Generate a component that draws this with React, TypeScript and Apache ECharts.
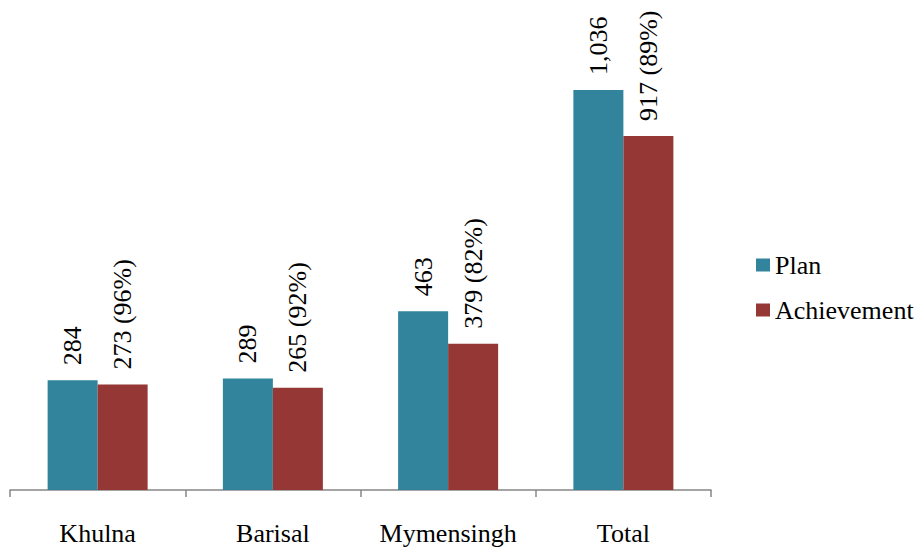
import React, { useEffect, useRef } from "react";
import * as echarts from "echarts";

const categories = ["Khulna", "Barisal", "Mymensingh", "Total"];
const planValues = [284, 289, 463, 1036];
const achievementValues = [273, 265, 379, 917];
const achievementPct = [96, 92, 82, 89];

const FONT = "Times New Roman";

export default function App() {
  const ref = useRef<HTMLDivElement>(null);

  useEffect(() => {
    if (!ref.current) return;
    const chart = echarts.init(ref.current, undefined, { renderer: "svg" });
    chart.setOption({
      animation: false,
      backgroundColor: "#fff",
      textStyle: { fontFamily: FONT },
      grid: { left: 10, right: 205, top: 26.68, bottom: 58 },
      legend: {
        orient: "vertical",
        left: 751,
        top: 247,
        itemWidth: 14,
        itemHeight: 13,
        itemGap: 19,
        icon: "rect",
        textStyle: { fontFamily: FONT, fontSize: 26, color: "#000" },
        data: ["Plan", "Achievement"],
      },
      xAxis: {
        type: "category",
        data: categories,
        axisLine: { lineStyle: { color: "#868686", width: 1.5 } },
        axisTick: { show: true, length: 7, lineStyle: { color: "#868686", width: 1.5 } },
        axisLabel: { interval: 0, color: "#000", fontFamily: FONT, fontSize: 26, margin: 30 },
      },
      yAxis: {
        type: "value",
        min: 0,
        max: 1200,
        show: false,
        splitLine: { show: false },
      },
      series: [
        {
          name: "Plan",
          type: "bar",
          data: planValues,
          barWidth: 50,
          barGap: "0%",
          itemStyle: { color: "#31849B" },
          label: {
            show: true,
            position: "top",
            rotate: 90,
            align: "left",
            verticalAlign: "middle",
            distance: 15,
            color: "#000",
            fontFamily: FONT,
            fontSize: 26,
            formatter: (p: any) => Number(p.value).toLocaleString("en-US"),
          },
        },
        {
          name: "Achievement",
          type: "bar",
          data: achievementValues,
          barWidth: 50,
          barGap: "0%",
          itemStyle: { color: "#953735" },
          label: {
            show: true,
            position: "top",
            rotate: 90,
            align: "left",
            verticalAlign: "middle",
            distance: 15,
            color: "#000",
            fontFamily: FONT,
            fontSize: 26,
            formatter: (p: any) =>
              `${Number(p.value).toLocaleString("en-US")} (${achievementPct[p.dataIndex]}%)`,
          },
        },
      ],
    });
    return () => chart.dispose();
  }, []);

  return (
    <div
      ref={ref}
      style={{ position: "fixed", left: 0, top: 0, width: 916, height: 548 }}
    />
  );
}
